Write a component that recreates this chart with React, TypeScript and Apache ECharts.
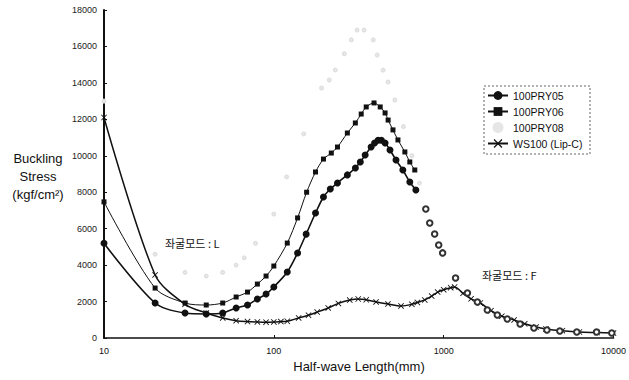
import React, { useEffect, useRef } from "react";
import * as echarts from "echarts";

// Half-wave length (mm) and buckling stress (kgf/cm²)
const xPRY05 = [10, 20, 30, 40, 50, 60, 70, 80, 90, 100, 120, 138, 155, 176, 196, 215, 237, 271, 302, 323, 345, 374, 392, 411, 430, 452, 483, 524, 575, 632, 686];
const yPRY05 = [5200, 1920, 1370, 1320, 1370, 1650, 1810, 2140, 2410, 2800, 3620, 4660, 5700, 6860, 7740, 8180, 8510, 8950, 9330, 9660, 10040, 10480, 10700, 10850, 10850, 10700, 10320, 9770, 9220, 8560, 8120];

const xPRY06 = [10, 20, 30, 40, 50, 60, 70, 80, 90, 100, 120, 138, 156, 176, 196, 218, 237, 271, 302, 327, 350, 389, 423, 452, 471, 503, 538, 591, 632, 676];
const yPRY06 = [7470, 2740, 1920, 1810, 1920, 2250, 2520, 2960, 3400, 3950, 5210, 6590, 8000, 9110, 9820, 10150, 10480, 11250, 11800, 12290, 12680, 12900, 12680, 12350, 11960, 11420, 10870, 10210, 9660, 9220];

const xPRY08 = [10, 20, 30, 40, 50, 60, 67, 78, 100, 119, 150, 191, 212, 230, 260, 286, 309, 340, 385, 406, 440, 471, 516, 580, 650, 720, 785, 828, 885, 935, 986, 1175, 1380, 1580, 1808, 2070, 2370, 2820, 3400, 4055, 4830, 6080, 7950, 9770];
const yPRY08 = [13000, 4600, 3600, 3400, 3600, 4000, 4400, 5200, 6800, 8840, 11200, 13720, 14160, 14710, 15600, 16360, 16900, 16900, 16360, 15530, 14700, 14050, 13060, 11600, 10000, 8500, 7080, 6310, 5710, 5100, 4670, 3290, 2470, 1980, 1540, 1260, 1040, 770, 550, 440, 380, 330, 330, 270];

const xWS100 = [10, 20, 30, 40, 50, 60, 70, 80, 90, 100, 110, 120, 140, 160, 180, 209, 240, 280, 314, 350, 400, 470, 561, 650, 700, 774, 850, 922, 1000, 1100, 1160, 1300, 1450, 1644, 1900, 2200, 2600, 3000, 3500, 4000, 5000, 6300, 8000, 10000];
const yWS100 = [12100, 3460, 1850, 1370, 1100, 950, 900, 880, 870, 880, 900, 920, 1100, 1250, 1420, 1650, 1900, 2080, 2140, 2100, 1980, 1870, 1760, 1850, 1950, 2090, 2300, 2520, 2650, 2760, 2800, 2450, 2150, 1920, 1500, 1200, 990, 780, 600, 500, 400, 330, 300, 270];

const seriesNames = ["100PRY05", "100PRY06", "100PRY08", "WS100 (Lip-C)"];
const xTickLabels = ["10", "100", "1000", "10000"];
const yAxisTitle = "Buckling\nStress\n(kgf/cm²)";
const xAxisTitle = "Half-wave Length(mm)";
const noteL = "좌굴모드 : L";
const noteF = "좌굴모드 : F";

const pairs = (xs: number[], ys: number[]) => xs.map((x, i) => [x, ys[i]]);

const crossSymbol = "path://M0,1L1,0L5,4L9,0L10,1L6,5L10,9L9,10L5,6L1,10L0,9L4,5Z";
const FONT = "'Liberation Sans', Arial, sans-serif";
const KFONT = "'Noto Sans CJK KR', 'Liberation Sans', sans-serif";

export default function App() {
  const ref = useRef<HTMLDivElement>(null);
  useEffect(() => {
    if (!ref.current) return;
    const chart = echarts.init(ref.current, null, { renderer: "svg" });
    const pry08Data = pairs(xPRY08, yPRY08).map((p) =>
      p[0] >= 750
        ? { value: p, symbolSize: 5.5, itemStyle: { color: "#333", borderWidth: 1.4 } }
        : { value: p }
    );
    chart.setOption({
      animation: false,
      backgroundColor: "#fff",
      grid: { left: 104, right: 14, top: 10, bottom: 42, containLabel: false },
      xAxis: {
        type: "log",
        logBase: 10,
        min: 10,
        max: 10000,
        axisLine: { lineStyle: { color: "#111", width: 1.5 } },
        axisTick: { inside: true, length: 3, lineStyle: { color: "#111" } },
        minorTick: { show: false },
        splitLine: { show: false },
        axisLabel: {
          color: "#111",
          fontSize: 9,
          fontFamily: FONT,
          margin: 8,
          showMaxLabel: true,
          formatter: (v: number) => {
            const s = String(Math.round(v));
            return xTickLabels.includes(s) ? s : "";
          },
        },
      },
      yAxis: {
        type: "value",
        min: 0,
        max: 18000,
        interval: 2000,
        axisLine: { show: true, lineStyle: { color: "#111", width: 2 } },
        axisTick: { show: true, inside: true, length: 3, lineStyle: { color: "#111" } },
        splitLine: { show: false },
        axisLabel: {
          color: "#222",
          fontSize: 9,
          fontFamily: FONT,
          margin: 7,
          formatter: (v: number) => String(v),
        },
      },
      legend: {
        orient: "vertical",
        left: 487,
        top: 90,
        padding: 0,
        itemGap: 5,
        itemWidth: 20,
        itemHeight: 11,
        data: [
          { name: seriesNames[0] },
          { name: seriesNames[1] },
          { name: seriesNames[2], icon: "circle", itemStyle: { color: "#e6e6e6" } },
          { name: seriesNames[3] },
        ],
        textStyle: { fontSize: 10.5, color: "#111", fontFamily: FONT },
      },
      graphic: [
        {
          type: "rect",
          shape: { x: 484, y: 86, width: 106, height: 68 },
          style: { fill: "none", stroke: "#666", lineWidth: 1, lineDash: [2, 2] },
          silent: true,
        },
        {
          type: "text",
          x: 38,
          y: 176,
          style: {
            text: yAxisTitle,
            fontSize: 13,
            lineHeight: 18,
            fontFamily: FONT,
            fill: "#111",
            textAlign: "center",
            textVerticalAlign: "middle",
          },
        },
        {
          type: "text",
          x: 359,
          y: 366,
          style: {
            text: xAxisTitle,
            fontSize: 13,
            fontFamily: FONT,
            fill: "#111",
            textAlign: "center",
            textVerticalAlign: "middle",
          },
        },
        {
          type: "text",
          x: 165,
          y: 243,
          style: { text: noteL, fontSize: 11, fontFamily: KFONT, fill: "#111", textVerticalAlign: "middle" },
        },
        {
          type: "text",
          x: 482,
          y: 275,
          style: { text: noteF, fontSize: 11, fontFamily: KFONT, fill: "#111", textVerticalAlign: "middle" },
        },
      ],
      series: [
        {
          name: seriesNames[2],
          type: "line",
          smooth: 0.3,
          data: pry08Data,
          symbol: "emptyCircle",
          symbolSize: 3,
          showSymbol: true,
          lineStyle: { color: "#f4f4f4", width: 0.5, opacity: 0 },
          itemStyle: { color: "#e0e0e0", borderWidth: 1 },
          z: 4,
        },
        {
          name: seriesNames[0],
          type: "line",
          smooth: 0.3,
          data: pairs(xPRY05, yPRY05),
          symbol: "circle",
          symbolSize: 7,
          lineStyle: { color: "#111", width: 1.6 },
          itemStyle: { color: "#111" },
          z: 3,
        },
        {
          name: seriesNames[1],
          type: "line",
          smooth: 0.3,
          data: pairs(xPRY06, yPRY06),
          symbol: "rect",
          symbolSize: 5,
          lineStyle: { color: "#111", width: 1 },
          itemStyle: { color: "#111" },
          z: 3,
        },
        {
          name: seriesNames[3],
          type: "line",
          smooth: 0.3,
          data: pairs(xWS100, yWS100),
          symbol: crossSymbol,
          symbolSize: 6,
          lineStyle: { color: "#111", width: 1.5 },
          itemStyle: { color: "#111" },
          z: 2,
        },
      ],
    });
    return () => chart.dispose();
  }, []);
  return (
    <div
      ref={ref}
      style={{ position: "absolute", left: 0, top: 0, width: 629, height: 380 }}
    />
  );
}
